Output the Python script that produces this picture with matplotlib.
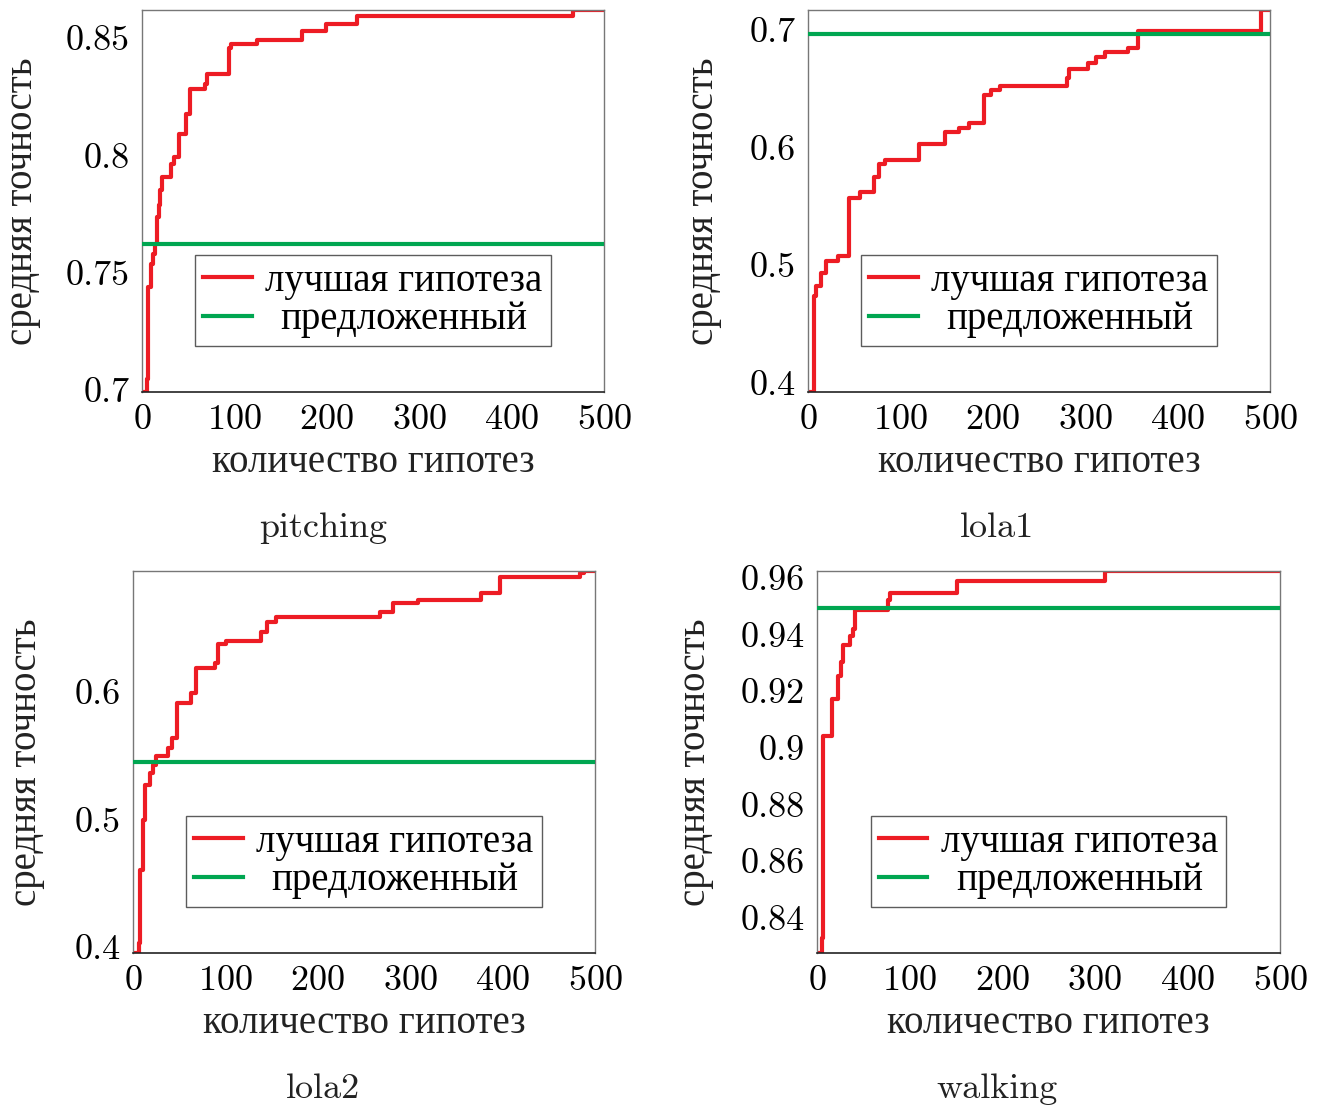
import matplotlib
matplotlib.use("Agg")
import matplotlib.pyplot as plt
from matplotlib.ticker import FixedLocator, FormatStrFormatter

plt.rcParams["axes.formatter.use_mathtext"] = True
W, H = 1326, 1111
NUM = ["cmr10", "DejaVu Serif"]
CYR = ["Liberation Serif", "DejaVu Serif"]
RED, GREEN = "#ed1c24", "#00a651"
FS_NUM, FS_CYR = 26, 28

YLABEL = "средняя точность"
XLABEL = "количество гипотез"
LEG = ["лучшая гипотеза", "предложенный"]

# pitching
pitch_x = [1, 5, 6, 7, 10, 12, 14, 16, 18, 20, 22, 31, 35, 40, 48, 52, 68, 70, 94, 96,
           124, 173, 199, 233, 466, 500]
pitch_y = [0.699, 0.7046, 0.722, 0.7436, 0.7537, 0.758, 0.762, 0.7736, 0.779, 0.785, 0.7907,
           0.7964, 0.7993, 0.8093, 0.8178, 0.8285, 0.8306, 0.8346, 0.8456, 0.8474,
           0.8494, 0.853, 0.856, 0.8595, 0.862, 0.862]
pitch_prop = 0.762

# lola1
lola1_x = [1, 6, 7, 9, 14, 20, 32, 44, 56, 71, 77, 83, 120, 148, 163, 174, 191, 198, 208,
           280, 282, 303, 312, 321, 346, 357, 490, 500]
lola1_y = [0.392, 0.44, 0.4733, 0.4818, 0.4932, 0.5031, 0.5073, 0.5568, 0.5625, 0.5753, 0.5858,
           0.5895, 0.603, 0.613, 0.617, 0.6206, 0.6447, 0.649, 0.6523, 0.659, 0.6665, 0.672,
           0.677, 0.681, 0.685, 0.6993, 0.717, 0.717]
lola1_prop = 0.6963

# lola2
lola2_x = [2, 6, 8, 11, 13, 18, 22, 25, 38, 42, 48, 63, 68, 89, 92, 101, 139, 145, 155,
           267, 281, 308, 377, 397, 484, 488, 500]
lola2_y = [0.395, 0.4029, 0.4604, 0.4996, 0.527, 0.5362, 0.5427, 0.5498, 0.5558, 0.5637,
           0.5916, 0.599, 0.6186, 0.6225, 0.6374, 0.6402, 0.6473, 0.6552, 0.6591, 0.663,
           0.6695, 0.6722, 0.6774, 0.6905, 0.6931, 0.6949, 0.6949]
lola2_prop = 0.5449

# walking
walk_x = [1, 5, 7, 16, 23, 26, 28, 36, 39, 41, 77, 79, 151, 311, 500]
walk_y = [0.8275, 0.8328, 0.9042, 0.9172, 0.9254, 0.9302, 0.9363, 0.9396, 0.942, 0.9488,
          0.952, 0.9547, 0.9588, 0.9624, 0.9624]
walk_prop = 0.9495

panels = [
    ("pitching", pitch_x, pitch_y, pitch_prop, [0.7, 0.75, 0.8, 0.85], (142, 10, 604, 392), 32, 323),
    ("lola1", lola1_x, lola1_y, lola1_prop, [0.4, 0.5, 0.6, 0.7], (808, 10, 1270, 392), 713, 997),
    ("lola2", lola2_x, lola2_y, lola2_prop, [0.4, 0.5, 0.6], (133, 571, 595, 953), 36, 323),
    ("walking", walk_x, walk_y, walk_prop, [0.84, 0.86, 0.88, 0.9, 0.92, 0.94, 0.96],
     (817, 571, 1280, 953), 705, 997),
]

fig = plt.figure(figsize=(W / 100, H / 100), dpi=100)
legends = []
for name, xs, ys, prop, yt, (l, t, r, b), ylab_x, cap_x in panels:
    ax = fig.add_axes([l / W, 1 - b / H, (r - l) / W, (b - t) / H])
    ax.plot(xs, ys, drawstyle="steps-post", color=RED, lw=3.0, label=LEG[0], zorder=2)
    ax.axhline(prop, color=GREEN, lw=3.0, label=LEG[1], zorder=3)
    ax.set_xlim(0, 500)
    ax.set_ylim(min(ys), max(ys))
    ax.xaxis.set_major_locator(FixedLocator([0, 100, 200, 300, 400, 500]))
    ax.yaxis.set_major_locator(FixedLocator(yt))
    ax.yaxis.set_major_formatter(FormatStrFormatter("%g"))
    ax.tick_params(length=0, labelsize=FS_NUM, pad=9)
    for lab in ax.get_xticklabels() + ax.get_yticklabels():
        lab.set_family(NUM)
    for side in ["left", "top", "right"]:
        ax.spines[side].set_color("#777777")
        ax.spines[side].set_linewidth(1.0)
    ax.spines["bottom"].set_color("#222222")
    ax.spines["bottom"].set_linewidth(1.2)
    leg = ax.legend(loc="center", bbox_to_anchor=(0.5, 0.2395), frameon=True, fancybox=False,
                    prop={"family": CYR, "size": FS_CYR}, handlelength=1.25, handletextpad=0.35,
                    borderpad=0.2, labelspacing=0.05, borderaxespad=0)
    leg.get_frame().set_edgecolor("#333333")
    leg.get_frame().set_linewidth(1.0)
    legends.append(leg)
    cx = (l + r) / 2
    cy = (t + b) / 2
    fig.text(ylab_x / W, 1 - cy / H, YLABEL, rotation=90, rotation_mode="anchor", ha="center",
             va="baseline", family=CYR, size=FS_CYR, color="#222222")
    fig.text(cx / W, 1 - (b + 80) / H, XLABEL, ha="center", va="baseline", family=CYR,
             size=FS_CYR, color="#222222")
    fig.text(cap_x / W, 1 - (b + 145) / H, name, ha="center", va="baseline", family=NUM,
             size=FS_NUM, color="#222222")

# centre the shorter legend entry in its column, as in the original
fig.canvas.draw()
rend = fig.canvas.get_renderer()
for leg in legends:
    t1, t2 = leg.get_texts()
    w1 = t1.get_window_extent(rend).width
    w2 = t2.get_window_extent(rend).width
    t2.set_position(((w1 - w2) / 2, 0))

fig.savefig("out.png", dpi=100)
